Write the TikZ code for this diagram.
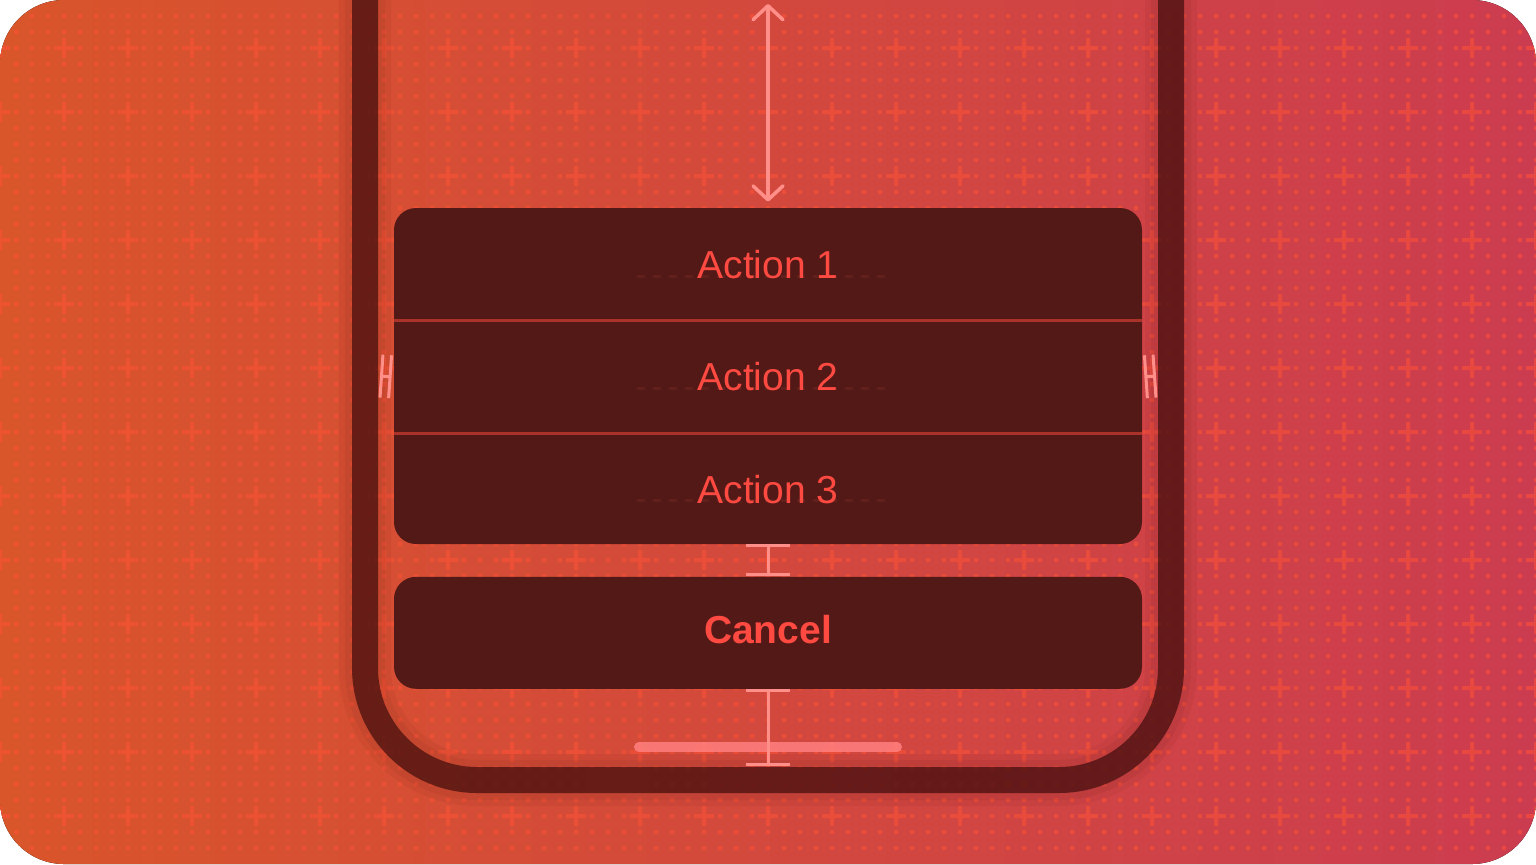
\documentclass[tikz,border=0pt]{standalone}
\usepackage{fontspec}
\setmainfont{Liberation Sans}
\usetikzlibrary{arrows.meta}
\usetikzlibrary{positioning,calc}
\definecolor{bgleft}{HTML}{D9552A}
\definecolor{bgmid}{HTML}{DF3A31}
\definecolor{bgright}{HTML}{CC3C50}
\definecolor{gridtint}{HTML}{FF5236}
\definecolor{framedark}{HTML}{3A0A0A}
\definecolor{sheetfill}{HTML}{531917}
\definecolor{sheetline}{HTML}{AA3229}
\definecolor{actiontext}{HTML}{FF4A42}
\definecolor{guidepink}{HTML}{FF8F88}
\definecolor{ghostdash}{HTML}{62201D}
\definecolor{homepink}{HTML}{FF8080}
\tikzset{sheet/.style={fill=sheetfill, rounded corners=11pt,
    minimum width=374pt, inner sep=0pt},
  actionrow/.style={minimum width=374pt, minimum height=56pt, inner sep=0pt,
    text=actiontext, font=\fontsize{19.5pt}{23pt}\selectfont},
  guide/.style={draw=guidepink, line width=1.5pt}}

\begin{document}
\begin{tikzpicture}[x=0.5pt, y=-0.5pt,
    phoneframe/.style={draw=framedark, line width=13pt, rounded corners=56pt},
    ibeam/.style={guide, {Bar[width=22pt]}-{Bar[width=22pt]}},
    gapmark/.style={guide, {Bar[width=21.5pt]}-{Bar[width=21.5pt]}},
    ghost/.style={draw=ghostdash, line width=1.5pt, dash pattern=on 4pt off 4pt}]
  \useasboundingbox (0,0) rectangle (1536,864);

  % backdrop with grid
  \fill[left color=bgleft, middle color=bgmid, right color=bgright,
    rounded corners=32pt] (0,0) rectangle (1536,864);
  \begin{scope}[transparency group, opacity=.55]
    \clip[rounded corners=32pt] (0,0) rectangle (1536,864);
    \foreach \y in {16,32,...,848}
      \draw[gridtint, line width=2pt, dash pattern=on 2pt off 6pt] (14,\y) -- (1536,\y);
    \foreach \y in {48,112,...,816}
      \draw[gridtint, line width=2pt, dash pattern=on 10pt off 22pt] (-10,\y) -- (1546,\y);
    \foreach \x in {0,64,...,1536}
      \draw[gridtint, line width=2pt, dash pattern=on 10pt off 22pt] (\x,38) -- (\x,874);
  \end{scope}

  % phone outline
  \foreach \w/\o in {26pt/.05, 20pt/.06}
    \draw[phoneframe, line width=\w, draw opacity=\o]
      (365,-20) -- (365,780) -- (1171,780) -- (1171,-20);
  \draw[phoneframe, draw opacity=.68] (365,-20) -- (365,780) -- (1171,780) -- (1171,-20);
  \coordinate (screentop) at (768,4);
  \coordinate (homebase) at (768,766);
  \coordinate (frameinL) at (380,376);
  \coordinate (frameinR) at (1156,376);

  % action sheet
  \node[sheet, minimum height=168pt] (sheet) at (768,376) {};
  \foreach \k in {0,1,2}
    \draw[ghost] ($(sheet.north)+(-131,69+112*\k)$) -- ($(sheet.north)+(122,69+112*\k)$);
  \node[actionrow, text depth=0pt, below=0pt of sheet.north] (action1) {Action 1};
  \node[actionrow, text depth=0pt, below=0pt of action1] (action2) {Action 2};
  \node[actionrow, text depth=0pt, below=0pt of action2] (action3) {Action 3};
  \draw[sheetline, line width=1.5pt] (action1.south west) -- (action1.south east);
  \draw[sheetline, line width=1.5pt] (action2.south west) -- (action2.south east);
  \node[sheet, actionrow, font=\fontsize{19.5pt}{23pt}\selectfont\bfseries,
    text depth=3pt, below=16pt of sheet] (cancel) {Cancel};

  % home indicator
  \draw[homepink, draw opacity=.85, line width=5pt, line cap=round] (639,747) -- (897,747);

  % spacing guides
  \draw[guide, line width=1.75pt, line cap=round, line join=round,
    {Straight Barb[length=7pt, width=15pt, round]}-{Straight Barb[length=7pt, width=15pt, round]},
    shorten >=3pt] (screentop) -- (sheet.north);
  \draw[ibeam] (sheet.south) -- (cancel.north);
  \draw[ibeam] (cancel.south) -- (homebase);
  \draw[gapmark] (frameinL) -- ([xshift=-1pt]action2.west);
  \draw[gapmark] ([xshift=1pt]action2.east) -- (frameinR);
\end{tikzpicture}
\end{document}
